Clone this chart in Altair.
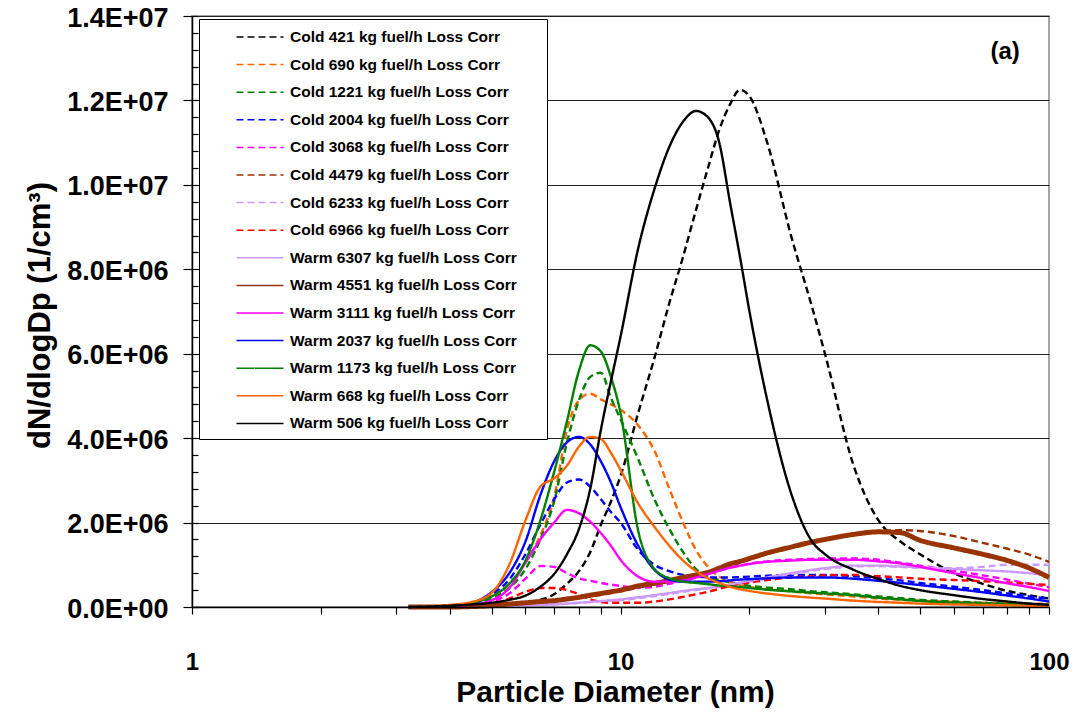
import altair as alt
import pandas as pd

# particle diameters (nm) at which curves were read
diameters = [3.2, 4, 4.5, 5, 5.5, 6, 6.5, 7, 7.5, 8,
             8.5, 9, 9.5, 10,
             11, 12, 13, 14, 15, 16, 17, 18, 19, 20,
             22, 25, 28, 30,
             35, 40, 45, 50,
             60, 70, 80, 90, 100]

series_names = [
    "Cold 421 kg fuel/h Loss Corr",
    "Cold 690 kg fuel/h Loss Corr",
    "Cold 1221 kg fuel/h Loss Corr",
    "Cold 2004 kg fuel/h Loss Corr",
    "Cold 3068 kg fuel/h Loss Corr",
    "Cold 4479 kg fuel/h Loss Corr",
    "Cold 6233 kg fuel/h Loss Corr",
    "Cold 6966 kg fuel/h Loss Corr",
    "Warm 6307 kg fuel/h Loss Corr",
    "Warm 4551 kg fuel/h Loss Corr",
    "Warm 3111 kg fuel/h Loss Corr",
    "Warm 2037 kg fuel/h Loss Corr",
    "Warm 1173 kg fuel/h Loss Corr",
    "Warm 668 kg fuel/h Loss Corr",
    "Warm 506 kg fuel/h Loss Corr",
]

series_colors = ["#000000", "#FF6600", "#008000", "#0000FF", "#FF00FF", "#993300", "#CC99FF", "#FF0000",
                 "#CC99FF", "#993300", "#FF00FF", "#0000FF", "#008000", "#FF6600", "#000000"]

# dN/dlogDp values in units of 1E+06 per cm3
cold_421 = [0, .01, .02, .03, .06, .1, .17, .3, .55, .85,
            1.3, 1.95, 2.5, 3.1,
            4.6, 5.9, 7.2, 8.3, 9.4, 10.4, 11.3, 11.9, 12.25, 12.1,
            11.0, 8.8, 7.1, 6.0,
            3.35, 2.05, 1.55, 1.25,
            .8, .55, .38, .28, .2]
cold_690 = [0, .03, .1, .25, .55, 1.05, 1.7, 2.6, 4.2, 4.9,
            5.05, 4.92, 4.8, 4.67,
            4.3, 3.7, 2.8, 2.0, 1.35, .95, .72, .6, .52, .47,
            .42, .37, .32, .3,
            .25, .2, .17, .15,
            .12, .1, .09, .08, .08]
cold_1221 = [0, .02, .06, .2, .45, .9, 1.6, 2.5, 3.9, 4.9,
             5.45, 5.55, 4.95, 4.45,
             3.5, 2.55, 1.85, 1.3, .9, .72, .64, .58, .54, .5,
             .46, .42, .37, .35,
             .3, .25, .21, .17,
             .13, .1, .08, .07, .06]
cold_2004 = [0, .03, .09, .3, .65, 1.25, 1.95, 2.55, 2.95, 3.02,
             2.85, 2.55, 2.25, 2.0,
             1.35, 1.0, .85, .76, .72, .7, .7, .7, .71, .72,
             .74, .76, .76, .76,
             .73, .68, .63, .57,
             .48, .4, .32, .25, .2]
cold_3068 = [0, .01, .04, .12, .32, .67, .97, .95, .8, .68,
             .62, .57, .53, .5,
             .46, .48, .55, .62, .7, .78, .86, .93, .98, 1.03,
             1.08, 1.12, 1.14, 1.15,
             1.15, 1.12, 1.05, .98,
             .86, .75, .65, .55, .47]
cold_4479 = [0, 0, .01, .02, .05, .08, .11, .14, .17, .21,
             .25, .29, .33, .37,
             .46, .54, .6, .68, .74, .8, .9, .98, 1.05, 1.12,
             1.26, 1.4, 1.52, 1.6,
             1.74, 1.8, 1.82, 1.8,
             1.68, 1.52, 1.38, 1.24, 1.07]
cold_6233 = [0, 0, .01, .02, .03, .04, .05, .06, .08, .1,
             .12, .14, .15, .16,
             .21, .26, .31, .36, .4, .44, .48, .52, .56, .6,
             .68, .78, .86, .9,
             .96, .97, .95, .93,
             .92, .95, 1.0, 1.0, 1.0]
cold_6966 = [0, .01, .02, .06, .2, .36, .45, .45, .4, .3,
             .18, .12, .1, .1,
             .1, .13, .18, .24, .3, .36, .43, .5, .55, .58,
             .64, .7, .73, .75,
             .76, .73, .7, .67,
             .64, .61, .58, .55, .52]
warm_6307 = [0, 0, .01, .02, .03, .04, .05, .06, .08, .1,
             .12, .14, .16, .18,
             .23, .28, .33, .38, .42, .45, .49, .53, .58, .62,
             .7, .8, .88, .92,
             .98, .98, .96, .94,
             .9, .87, .84, .8, .75]
warm_4551 = [0, 0, .01, .03, .07, .1, .13, .15, .19, .23,
             .28, .32, .36, .4,
             .5, .56, .63, .7, .76, .82, .92, 1.02, 1.08, 1.15,
             1.28, 1.42, 1.54, 1.6,
             1.72, 1.78, 1.76, 1.58,
             1.4, 1.25, 1.1, .92, .7]
warm_3111 = [0, .02, .06, .16, .45, 1.05, 1.6, 2.0, 2.3, 2.22,
             2.02, 1.75, 1.45, 1.12,
             .72, .6, .6, .63, .7, .78, .86, .93, .98, 1.02,
             1.07, 1.1, 1.12, 1.12,
             1.12, 1.08, 1.03, .95,
             .8, .68, .56, .47, .38]
warm_2037 = [0, .03, .1, .35, .8, 1.55, 2.65, 3.45, 3.9, 4.03,
             3.85, 3.45, 2.95, 2.37,
             1.45, .88, .65, .6, .6, .6, .61, .63, .65, .66,
             .68, .7, .7, .7,
             .67, .62, .57, .52,
             .43, .35, .27, .2, .13]
warm_1173 = [0, .03, .1, .25, .55, 1.1, 2.05, 3.2, 4.4, 5.6,
             6.2, 6.05, 5.45, 4.6,
             1.8, .9, .68, .6, .57, .54, .51, .49, .47, .45,
             .41, .37, .34, .32,
             .28, .22, .18, .14,
             .1, .08, .06, .05, .04]
warm_668 = [0, .05, .12, .33, 1.0, 2.05, 2.85, 3.05, 3.35, 3.8,
            4.03, 3.98, 3.65, 3.25,
            2.45, 1.9, 1.45, 1.1, .85, .68, .57, .48, .42, .38,
            .32, .26, .22, .2,
            .15, .12, .1, .08,
            .06, .05, .04, .03, .02]
warm_506 = [0, .03, .06, .1, .17, .27, .48, .78, 1.25, 1.85,
            2.8, 4.2, 5.35, 6.4,
            8.5, 9.9, 10.9, 11.5, 11.75, 11.6, 11.0, 9.6, 8.3, 7.0,
            4.9, 2.7, 1.55, 1.25,
            .88, .66, .5, .4,
            .28, .19, .13, .08, .05]

series_values = [cold_421, cold_690, cold_1221, cold_2004, cold_3068, cold_4479, cold_6233, cold_6966,
                 warm_6307, warm_4551, warm_3111, warm_2037, warm_1173, warm_668, warm_506]

x_ticks = [1, 2, 3, 4, 5, 6, 7, 8, 9, 10, 20, 30, 40, 50, 60, 70, 80, 90, 100]
y_major = [0, 2e6, 4e6, 6e6, 8e6, 1e7, 1.2e7, 1.4e7]
y_minor = [i * 4e5 for i in range(36)]
panel_label = ["(a)"]
panel_label_pos = [79, 1.315e7]

rows = []
for name, vals in zip(series_names, series_values):
    for d, v in zip(diameters, vals):
        rows.append({"series": name, "d": d, "value": v * 1e6})
df = pd.DataFrame(rows)

FONT = "Liberation Sans"

x_scale = alt.Scale(type="log", domain=[1, 100], nice=False)
y_scale = alt.Scale(domain=[0, 1.4e7], nice=False, zero=True)

x_axis = alt.Axis(
    values=x_ticks,
    labelExpr="(datum.value == 1 || datum.value == 10 || datum.value == 100) ? datum.label : ''",
    format="d",
    labelFontSize=24, labelFontWeight="bold", labelPadding=36, labelFlush=False, labelOverlap=False,
    tickSize=7, tickColor="black", tickWidth=1.2, grid=False,
    domainColor="black", domainWidth=1.5, zindex=1,
    title="Particle Diameter (nm)", titleFontSize=30, titleFontWeight="bold",
    titleX=423, titleY=85, titleAlign="center", titleBaseline="middle",
)
x_enc = alt.X("d:Q", scale=x_scale, axis=x_axis)

exp_expr = "floor(log(datum.value) / LN10 + 0.000001)"
y_label_expr = ("datum.value == 0 ? '0.0E+00' : format(datum.value / pow(10, " + exp_expr + "), '.1f') + 'E+' + (" +
                exp_expr + " < 10 ? '0' : '') + " + exp_expr)

# grid-only axis (behind the curves)
y_grid = alt.Y("value:Q", scale=y_scale, axis=alt.Axis(
    values=y_major, labels=False, ticks=False, domain=False,
    grid=True, gridColor="#222222", gridWidth=1, title=None, orient="left", zindex=0,
))

# labelled axis (above the curves)
y_labels = alt.Y("value:Q", scale=y_scale, axis=alt.Axis(
    values=y_major, labelExpr=y_label_expr,
    labelFontSize=27, labelFontWeight="bold", labelPadding=15, labelFlush=False, labelOverlap=False,
    labelOffset=2,
    tickSize=9, tickColor="black", tickWidth=1.2, grid=False,
    domainColor="black", domainWidth=1.5, zindex=1,
    title="dN/dlogDp (1/cm³)", titleFontSize=31, titleFontWeight="bold",
    titleX=-152, titleY=299, titleAngle=270, titleAlign="center", titleBaseline="middle",
    orient="left",
))

# minor ticks inside the plot
y_minor_enc = alt.Y("value:Q", scale=y_scale, axis=alt.Axis(
    values=y_minor, labels=False, domain=False, grid=False, orient="left", offset=-6,
    tickSize=6, tickColor="black", tickWidth=1.2, title=None, zindex=1))

legend = alt.Legend(
    orient="none", legendX=7, legendY=3,
    title="Corr", titleOrient="right", titleFontSize=10.5, titlePadding=0, titleColor="#ffffff",
    fillColor="white", strokeColor="black", padding=7,
    symbolType="M-2.35,0H2.35", symbolSize=400, symbolStrokeWidth=1.5, symbolOffset=43,
    labelFontSize=15.5, labelFontWeight="bold", labelOffset=19, labelLimit=400, labelColor="black",
    rowPadding=7.6,
)

lines = alt.Chart(df).mark_line(interpolate="monotone").encode(
    x=x_enc,
    y=y_grid,
    color=alt.Color("series:N", sort=series_names,
                    scale=alt.Scale(domain=series_names, range=series_colors), legend=legend),
    strokeDash=alt.StrokeDash("series:N", sort=series_names,
                              scale=alt.Scale(domain=series_names,
                                              range=[[7, 4]] * 8 + [[1, 0]] * 7), legend=legend),
    strokeWidth=alt.condition(alt.datum.series == "Warm 4551 kg fuel/h Loss Corr", alt.value(5), alt.value(2.4)),
)

labelled = alt.Chart(df).mark_line(opacity=0).encode(x=x_enc, y=y_labels)
minor = alt.Chart(df).mark_line(opacity=0).encode(x=x_enc, y=y_minor_enc)

label_df = pd.DataFrame({"d": [panel_label_pos[0]], "value": [panel_label_pos[1]], "label": panel_label})
panel = alt.Chart(label_df).mark_text(fontSize=24, fontWeight="bold", font=FONT, color="black").encode(
    x=x_enc,
    y=alt.Y("value:Q", scale=y_scale, axis=None),
    text="label:N",
)

chart = alt.layer(lines, labelled, minor, panel).resolve_axis(y="independent").properties(
    width=857, height=591,
    autosize=alt.AutoSizeParams(type="none"),
    padding={"left": 184, "top": 8, "right": 20, "bottom": 108},
).configure(font=FONT).configure_view(stroke="#888888", strokeWidth=1.5).configure_axis(
    labelColor="black", titleColor="black", labelFont=FONT, titleFont=FONT
).configure_legend(labelFont=FONT, titleFont=FONT)

chart.save("out.html", embed_options={"renderer": "svg", "actions": False})
